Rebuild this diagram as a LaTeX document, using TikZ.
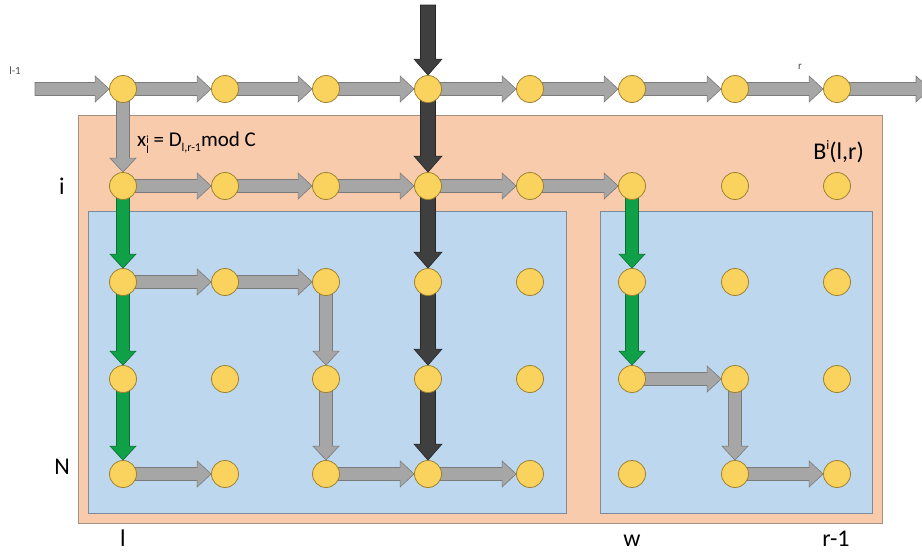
\documentclass[tikz,border=0pt]{standalone}
\usepackage{fontspec}
\setmainfont{Carlito}
\usetikzlibrary{calc}
\pgfdeclarelayer{bglayer}
\pgfdeclarelayer{arrlayer}
\pgfsetlayers{bglayer,arrlayer,main}
\definecolor{boxorange}{HTML}{F8CBAD}
\definecolor{boxorangeline}{HTML}{A89080}
\definecolor{boxblue}{HTML}{BDD7EE}
\definecolor{boxblueline}{HTML}{7D8C9C}
\definecolor{dotfill}{HTML}{FAD35E}
\definecolor{dotline}{HTML}{9C8230}
\definecolor{arrgray}{HTML}{A6A6A6}
\definecolor{arrgrayline}{HTML}{7A7A7A}
\definecolor{arrdark}{HTML}{3F3F3F}
\definecolor{arrdarkline}{HTML}{262626}
\definecolor{arrgreen}{HTML}{10A048}
\definecolor{arrgreenline}{HTML}{0A7030}
\def\ash{6.5pt}
\def\asH{13pt}
\def\asL{14pt}
% horizontal block arrow from node #2 (centre) to node #3 (west)
\newcommand\harr[3][grayarr]{%
  \begin{pgfonlayer}{arrlayer}
  \draw[#1] ($(#2)+(0pt,\ash)$) -- ($(#3.west)+(-\asL,\ash)$) -- ($(#3.west)+(-\asL,\asH)$)
    -- (#3.west) -- ($(#3.west)+(-\asL,-\asH)$) -- ($(#3.west)+(-\asL,-\ash)$)
    -- ($(#2)+(0pt,-\ash)$) -- cycle;
  \end{pgfonlayer}}
% vertical (downward) block arrow from node #2 (centre) to node #3 (north)
\newcommand\varr[3][grayarr]{%
  \begin{pgfonlayer}{arrlayer}
  \draw[#1] ($(#2)+(-\ash,0pt)$) -- ($(#3.north)+(-\ash,\asL)$) -- ($(#3.north)+(-\asH,\asL)$)
    -- (#3.north) -- ($(#3.north)+(\asH,\asL)$) -- ($(#3.north)+(\ash,\asL)$)
    -- ($(#2)+(\ash,0pt)$) -- cycle;
  \end{pgfonlayer}}
\begin{document}
\begin{tikzpicture}[x=1pt,y=-1pt,
  dot/.style={circle, fill=dotfill, draw=dotline, line width=0.8pt, minimum size=27pt, inner sep=0pt},
  grayarr/.style={fill=arrgray, draw=arrgrayline, line width=0.6pt, line join=miter},
  darkarr/.style={fill=arrdark, draw=arrdarkline, line width=0.6pt},
  greenarr/.style={fill=arrgreen, draw=arrgreenline, line width=0.6pt},
  lbl/.style={font=\fontsize{24}{26}\selectfont, inner sep=0pt},
  small/.style={font=\fontsize{11}{12}\selectfont, inner sep=0pt, text=black!70}]
\useasboundingbox (0,0) rectangle (922,554);
\begin{pgfonlayer}{bglayer}
  \draw[fill=boxorange, draw=boxorangeline, line width=1pt] (78,115) rectangle (882,523);
  \draw[fill=boxblue, draw=boxblueline, line width=1pt] (88,211) rectangle (566,513);
  \draw[fill=boxblue, draw=boxblueline, line width=1pt] (600,211) rectangle (872,513);
\end{pgfonlayer}
\foreach \r/\y in {t/89,i/186,a/282,b/379,c/474}
  \foreach \c/\x in {1/123,2/225,3/326,4/428,5/530,6/632,7/735,8/837}
    \node[dot] (\r\c) at (\x,\y) {};
\coordinate (start) at (35,89);
\coordinate (end) at (930,89);
\coordinate (dtop) at (428,5);
% top row
\harr{start}{t1}
\foreach \p/\q in {t1/t2,t2/t3,t3/t4,t4/t5,t5/t6,t6/t7,t7/t8} {\harr{\p}{\q}}
\harr{t8}{end}
\varr{t1}{i1}
% row i
\foreach \p/\q in {i1/i2,i2/i3,i3/i4,i4/i5,i5/i6} {\harr{\p}{\q}}
% green paths
\varr[greenarr]{i1}{a1}
\varr[greenarr]{a1}{b1}
\varr[greenarr]{b1}{c1}
\varr[greenarr]{i6}{a6}
\varr[greenarr]{a6}{b6}
% gray paths in the left block
\harr{a1}{a2}
\harr{a2}{a3}
\varr{a3}{b3}
\varr{b3}{c3}
\harr{c1}{c2}
\harr{c3}{c4}
\harr{c4}{c5}
% gray paths in the right block
\harr{b6}{b7}
\varr{b7}{c7}
\harr{c7}{c8}
% dark path
{\def\ash{7.5pt}\def\asH{14pt}\def\asL{16pt}
\varr[darkarr]{dtop}{t4}
\varr[darkarr]{t4}{i4}
\varr[darkarr]{i4}{a4}
\varr[darkarr]{a4}{b4}
\varr[darkarr]{b4}{c4}}
% labels
\node[small] (lm1) at (15,71) {l-1};
\node[small] (rtop) at (800,67) {r};
\node[anchor=west, inner sep=0pt, font=\fontsize{21}{24}\selectfont] (form) at (137,143)
  {x\raisebox{-0.7ex}{\fontsize{11}{12}\selectfont\shortstack[l]{i\\l}} = D\raisebox{-0.45ex}{\fontsize{12}{12}\selectfont l,r-1}mod C};
\node[anchor=east, inner sep=0pt, font=\fontsize{24}{26}\selectfont] (blr) at (864,152)
  {B\raisebox{0.85ex}{\fontsize{13}{13}\selectfont i}(l,r)};
\node[lbl] (li) at (62,186) {i};
\node[lbl] (lN) at (62,467) {N};
\node[lbl, anchor=base] (ll) at (123,546) {l};
\node[lbl, anchor=base] (lw) at (632,546) {w};
\node[lbl, anchor=base] (lr) at (836,546) {r-1};
\end{tikzpicture}
\end{document}
